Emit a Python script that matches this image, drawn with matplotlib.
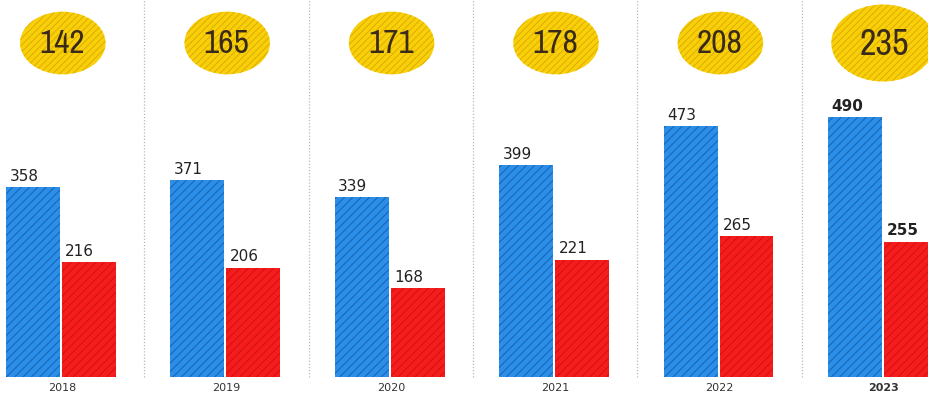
import numpy as np
import matplotlib.pyplot as plt
from matplotlib.patches import Ellipse
from matplotlib import font_manager

# ================================================
years    = ['2018', '2019', '2020', '2021', '2022', '2023']
blue     = [358, 371, 339, 399, 473, 490]
red      = [216, 206, 168, 221, 265, 255]
circles  = [142, 165, 171, 178, 208, 235]
# ================================================
c_blue   = '#2b8ee8'
c_blue_h = '#1a62b0'
c_red    = '#f41c1c'
c_red_h  = '#d41010'
c_yel    = '#f6d10a'
c_yel_h  = '#e6a800'

# narrow face for the numbers in the yellow ovals, if one is installed
names = sorted({f.name for f in font_manager.fontManager.ttflist})
cond = [n for n in names if 'Condensed' in n or 'Narrow' in n]
fam = cond[0] if cond else 'DejaVu Sans'

plt.rcParams['hatch.linewidth'] = 0.7
fig = plt.figure(figsize=(9.29, 4.05), dpi=100)
ax = fig.add_axes([0, 0, 1, 1])
ax.set_xlim(-0.377, 5.274)
ax.set_ylim(-52.7, 710)
ax.axis('off')

x  = np.arange(len(years))
bw = 0.328
xb = x - 0.176
xr = x + 0.164

ax.bar(xb, blue, bw, color=c_blue, edgecolor=c_blue_h, lw=0, hatch='////')
ax.bar(xr, red, bw, color=c_red, edgecolor=c_red_h, lw=0, hatch='////')

for i in range(len(years)):
    last = (i == len(years) - 1)
    fw = 'bold' if last else 'normal'
    ax.text(xb[i] - bw/2 + 0.02, blue[i] + 6, str(blue[i]), ha='left', va='bottom',
            fontsize=11, color='#222222', fontweight=fw)
    ax.text(xr[i] - bw/2 + 0.02, red[i] + 6, str(red[i]), ha='left', va='bottom',
            fontsize=11, color='#222222', fontweight=fw)
    ax.text(x[i], -12, years[i], ha='center', va='top', fontsize=8,
            color='#333333', fontweight=fw)
    # yellow ellipse
    w, h = (0.63, 145) if last else (0.52, 118)
    ax.add_patch(Ellipse((x[i] + (0.005 if not last else -0.005), 629), w, h,
                         facecolor=c_yel, edgecolor=c_yel_h, lw=0, hatch='/////'))
    ax.text(x[i], 627, str(circles[i]), ha='center', va='center',
            fontsize=24 if not last else 26, family=fam, fontstretch='condensed',
            fontweight='bold' if last else 'normal', color='#3a2a1a')
    # separators
    if i > 0:
        ax.plot([x[i] - 0.5, x[i] - 0.5], [0, 710], ls=(0, (1, 1.5)), lw=0.9,
                color='#b8b8b8')

plt.savefig('out.png', dpi=100)
plt.close()
